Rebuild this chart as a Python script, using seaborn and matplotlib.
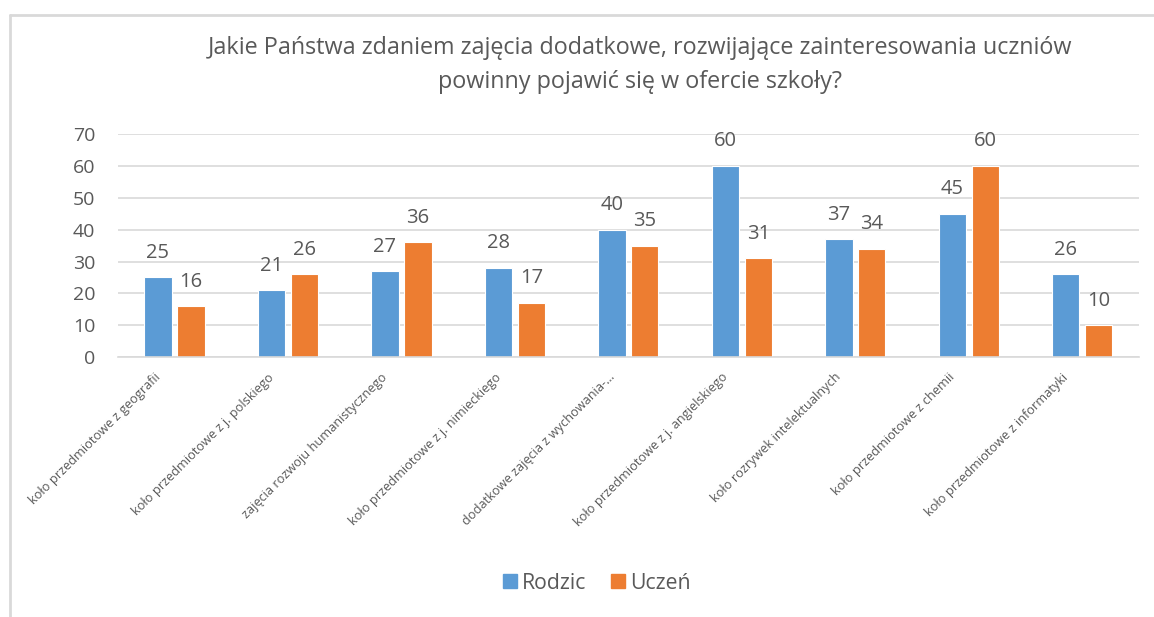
import pandas as pd
import matplotlib
matplotlib.use('Agg')
import matplotlib.pyplot as plt
import matplotlib.transforms as mtransforms
from matplotlib.lines import Line2D
import seaborn as sns

sns.set_style('white')
plt.rcParams['font.family'] = ['Open Sans', 'DejaVu Sans']

# ---- data
categories = [
    'koło przedmiotowe z geografii',
    'koło przedmiotowe z j. polskiego',
    'zajęcia rozwoju humanistycznego',
    'koło przedmiotowe z j. nimieckiego',
    'dodatkowe zajęcia z wychowania-...',
    'koło przedmiotowe z j. angielskiego',
    'koło rozrywek intelektualnych',
    'koło przedmiotowe z chemii',
    'koło przedmiotowe z informatyki',
]
rodzic = [25, 21, 27, 28, 40, 60, 37, 45, 26]
uczen = [16, 26, 36, 17, 35, 31, 34, 60, 10]
series = ['Rodzic', 'Uczeń']
colors = ['#5B9BD5', '#ED7D31']
yticks = [0, 10, 20, 30, 40, 50, 60, 70]

df = pd.DataFrame({
    'kategoria': categories * 2,
    'seria': [series[0]] * len(categories) + [series[1]] * len(categories),
    'wartosc': rodzic + uczen,
})

text_col = '#595959'
grid_col = '#D9D9D9'

fig = plt.figure(figsize=(11.54, 6.17), dpi=100)
ax = fig.add_axes([0.102, 0.421, 0.885, 0.362])

sns.barplot(data=df, x='kategoria', y='wartosc', hue='seria', order=categories,
            hue_order=series, palette=colors, width=0.58, gap=0.17,
            edgecolor='white', linewidth=0.8, saturation=1, ax=ax, legend=False)

for cont in ax.containers:
    ax.bar_label(cont, fmt='%d', padding=10.5, fontsize=14.5, color=text_col)

ax.set_ylim(0, 70)
ax.set_yticks(yticks)
ax.set_xlim(-0.5, len(categories) - 0.5)
ax.yaxis.grid(True, color=grid_col, linewidth=1.2)
ax.set_axisbelow(True)
for s in ['top', 'right', 'left']:
    ax.spines[s].set_visible(False)
ax.spines['bottom'].set_color(grid_col)
ax.spines['bottom'].set_linewidth(1.2)
ax.tick_params(axis='both', length=0)
ax.tick_params(axis='y', labelsize=14, labelcolor=text_col, pad=16)
ax.set_xlabel('')
ax.set_ylabel('')
ax.set_xticks(range(len(categories)))
ax.set_xticklabels(categories, rotation=45, ha='right', va='center',
                   rotation_mode='anchor', fontsize=9.2, color=text_col)
ax.tick_params(axis='x', pad=13)
shift = mtransforms.ScaledTranslation(-16 / 100, 0, fig.dpi_scale_trans)
for lab in ax.get_xticklabels():
    lab.set_transform(lab.get_transform() + shift)

fig.text(0.555, 0.922, 'Jakie Państwa zdaniem zajęcia dodatkowe, rozwijające zainteresowania uczniów',
         ha='center', va='center', fontsize=16.8, color=text_col)
fig.text(0.555, 0.867, 'powinny pojawić się w ofercie szkoły?',
         ha='center', va='center', fontsize=16.8, color=text_col)

handles = [Line2D([], [], marker='s', linestyle='', markersize=10,
                  markerfacecolor=c, markeredgecolor=c) for c in colors]
fig.legend(handles, series, loc='center', bbox_to_anchor=(0.516, 0.055), ncol=2,
           frameon=False, fontsize=15.3, labelcolor=text_col, handletextpad=0.15,
           columnspacing=1.0, handlelength=0.9)

# chart frame (top and left edges visible in the screenshot)
fig.add_artist(Line2D([10 / 1154, 1.0], [1 - 15 / 617] * 2, color='#D9D9D9', linewidth=2,
                      transform=fig.transFigure))
fig.add_artist(Line2D([10 / 1154] * 2, [0.0, 1 - 15 / 617], color='#D9D9D9', linewidth=2,
                      transform=fig.transFigure))

fig.savefig('out.png', dpi=100)
